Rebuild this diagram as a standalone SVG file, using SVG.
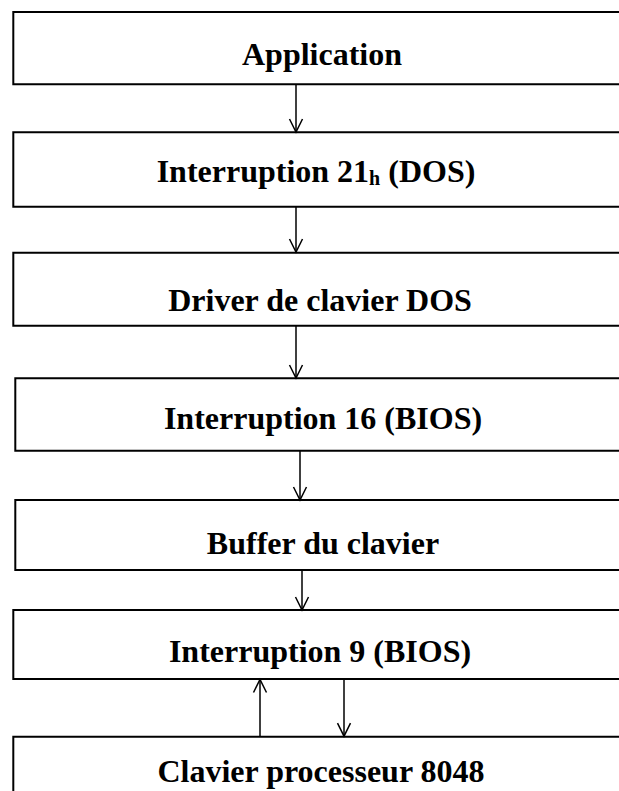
<svg xmlns="http://www.w3.org/2000/svg" width="619" height="791" viewBox="0 0 619 791">
<style>
.box{fill:none;stroke:#000;stroke-width:2}
.lbl{font-family:"Liberation Serif","Times New Roman",serif;font-weight:bold;font-size:32px;text-anchor:middle;fill:#000}
.con{stroke:#000;stroke-width:1.5;fill:none;marker-end:url(#v)}
</style>
<defs>
<marker id="v" markerUnits="userSpaceOnUse" markerWidth="20" markerHeight="20" viewBox="-15 -10 20 20" refX="0" refY="0" orient="auto" overflow="visible">
<path d="M-13,-6.5 L0,0 L-13,6.5" fill="none" stroke="#000" stroke-width="1.5"/>
</marker>
</defs>
<g id="n1"><path class="box" d="M625,12 H13.3 V84.3 H625"/><text class="lbl" x="322" y="65">Application</text></g>
<g id="n2"><path class="box" d="M625,132.3 H13.3 V206.7 H625"/><text class="lbl" x="316" y="182">Interruption 21<tspan font-size="20" dy="3">h</tspan><tspan dy="-3"> (DOS)</tspan></text></g>
<g id="n3"><path class="box" d="M625,252.7 H13.3 V325.7 H625"/><text class="lbl" x="320" y="311">Driver de clavier DOS</text></g>
<g id="n4"><path class="box" d="M625,378.3 H15.3 V450.7 H625"/><text class="lbl" x="323" y="429">Interruption 16 (BIOS)</text></g>
<g id="n5"><path class="box" d="M625,500 H15.3 V570 H625"/><text class="lbl" x="323" y="554">Buffer du clavier</text></g>
<g id="n6"><path class="box" d="M625,610 H13.3 V679 H625"/><text class="lbl" x="320" y="662">Interruption 9 (BIOS)</text></g>
<g id="n7"><path class="box" d="M625,736.7 H13.3 V800"/><text class="lbl" x="321" y="782">Clavier processeur 8048</text></g>
<g id="connectors">
<line class="con" x1="296" y1="84.3" x2="296" y2="132"/>
<line class="con" x1="296" y1="206.7" x2="296" y2="252"/>
<line class="con" x1="296" y1="325.7" x2="296" y2="378"/>
<line class="con" x1="300" y1="450.7" x2="300" y2="500"/>
<line class="con" x1="302" y1="570" x2="302" y2="610"/>
<line class="con" x1="260" y1="736.7" x2="260" y2="679.5"/>
<line class="con" x1="344" y1="679" x2="344" y2="736.2"/>
</g>
</svg>
